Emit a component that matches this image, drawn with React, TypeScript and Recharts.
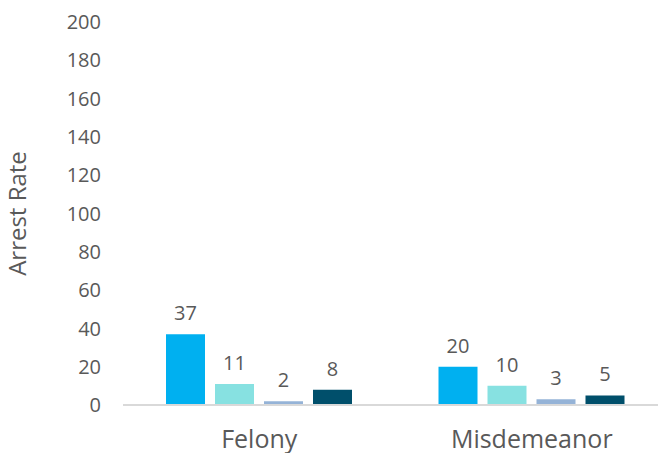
import React from 'react';
import { BarChart, Bar, XAxis, YAxis, LabelList, Label } from 'recharts';

// chart values
const categories = ['Felony', 'Misdemeanor'];
const seriesA = [37, 20];
const seriesB = [11, 10];
const seriesC = [2, 3];
const seriesD = [8, 5];
const yTicks = [0, 20, 40, 60, 80, 100, 120, 140, 160, 180, 200];

const data = categories.map((name, i) => ({
  name,
  a: seriesA[i],
  b: seriesB[i],
  c: seriesC[i],
  d: seriesD[i],
}));

const font = '"Open Sans", sans-serif';
const textColor = '#595959';

const App = () => {
  const labelStyle = { fill: textColor, fontSize: 20, fontFamily: font };
  return (
    <div style={{ position: 'fixed', left: 0, top: 0, width: 658, height: 453, overflow: 'hidden', background: '#fff' }}>
      <BarChart
        width={690}
        height={453}
        data={data}
        margin={{ top: 22, right: 22, bottom: 0, left: 0 }}
        barSize={39}
        barGap={10}
      >
        <XAxis
          dataKey="name"
          axisLine={{ stroke: '#D9D9D9', strokeWidth: 2 }}
          tickLine={false}
          height={48}
          tickMargin={19}
          tick={{ fill: textColor, fontSize: 25, fontFamily: font }}
        />
        <YAxis
          domain={[0, 200]}
          ticks={yTicks}
          interval={0}
          axisLine={false}
          tickLine={false}
          tickSize={0}
          tickMargin={22}
          width={123}
          tick={{ fill: textColor, fontSize: 20, fontFamily: font }}
        >
          <Label
            value="Arrest Rate"
            angle={-90}
            position="insideLeft"
            offset={17}
            style={{ fill: textColor, fontSize: 24, fontFamily: font, textAnchor: 'middle' }}
          />
        </YAxis>
        <Bar dataKey="a" fill="#00B0F0" isAnimationActive={false}>
          <LabelList dataKey="a" position="top" offset={14} style={labelStyle} />
        </Bar>
        <Bar dataKey="b" fill="#87E1E1" isAnimationActive={false}>
          <LabelList dataKey="b" position="top" offset={14} style={labelStyle} />
        </Bar>
        <Bar dataKey="c" fill="#95B3D7" isAnimationActive={false}>
          <LabelList dataKey="c" position="top" offset={14} style={labelStyle} />
        </Bar>
        <Bar dataKey="d" fill="#004F6B" isAnimationActive={false}>
          <LabelList dataKey="d" position="top" offset={14} style={labelStyle} />
        </Bar>
      </BarChart>
    </div>
  );
};

export default App;
